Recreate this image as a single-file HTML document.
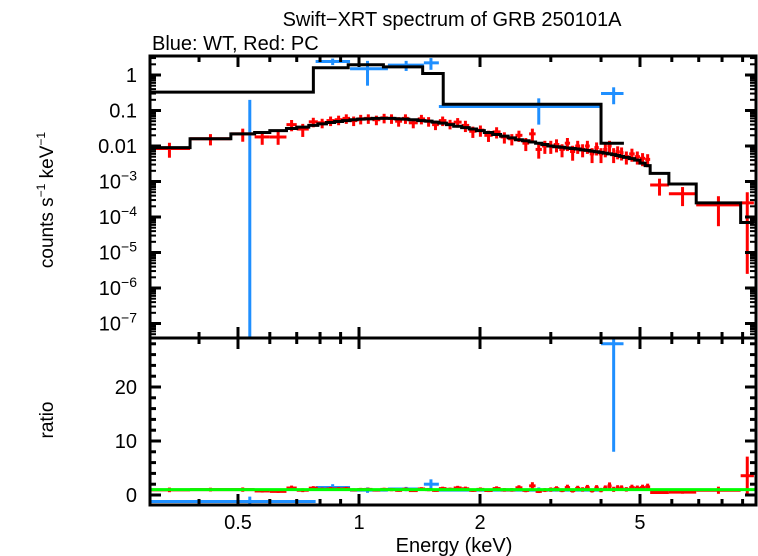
<!DOCTYPE html>
<html><head><meta charset="utf-8"><style>
body{margin:0;background:#fff;}
svg{display:block;font-family:"Liberation Sans",sans-serif;}
</style></head><body>
<svg id="c" width="758" height="556" viewBox="0 0 758 556">
<text x="452" y="26" font-size="20" text-anchor="middle">Swift−XRT spectrum of GRB 250101A</text>
<text x="152" y="50" font-size="20">Blue: WT, Red: PC</text>
<text transform="translate(53,200) rotate(-90)" font-size="19" text-anchor="middle">counts s<tspan font-size="12" dy="-8">−1</tspan><tspan dy="8"> keV</tspan><tspan font-size="12" dy="-8">−1</tspan></text>
<text transform="translate(53,420) rotate(-90)" font-size="19" text-anchor="middle">ratio</text>
<text x="454" y="552" font-size="20" text-anchor="middle">Energy (keV)</text>
<g id="g"></g>
</svg>
<script>
// red PC data
const rLo=[0.30,0.38,0.48,0.55,0.60,0.66,0.70,0.75,0.79,0.83,0.87,0.91,0.95,0.99,1.03,1.08,1.13,1.18,1.23,1.28,1.33,1.40,1.46,1.52,1.58,1.65,1.72,1.80,1.88,1.96,2.05,2.15,2.25,2.35,2.45,2.55,2.65,2.75,2.85,2.95,3.05,3.15,3.25,3.35,3.45,3.55,3.65,3.75,3.85,3.95,4.05,4.15,4.25,4.35,4.45,4.55,4.70,4.85,5.00,5.15,5.30,5.90,6.90,8.90];
const rHi=[0.38,0.48,0.55,0.60,0.66,0.70,0.75,0.79,0.83,0.87,0.91,0.95,0.99,1.03,1.08,1.13,1.18,1.23,1.28,1.33,1.40,1.46,1.52,1.58,1.65,1.72,1.80,1.88,1.96,2.05,2.15,2.25,2.35,2.45,2.55,2.65,2.75,2.85,2.95,3.05,3.15,3.25,3.35,3.45,3.55,3.65,3.75,3.85,3.95,4.05,4.15,4.25,4.35,4.45,4.55,4.70,4.85,5.00,5.15,5.30,5.90,6.90,8.90,9.60];
const rVal=[0.0085,0.016,0.022,0.018,0.018,0.040,0.030,0.048,0.045,0.052,0.055,0.060,0.052,0.058,0.060,0.055,0.062,0.060,0.050,0.060,0.045,0.058,0.050,0.040,0.052,0.042,0.047,0.038,0.026,0.028,0.020,0.025,0.018,0.016,0.020,0.012,0.022,0.008,0.010,0.010,0.011,0.008,0.012,0.007,0.010,0.008,0.010,0.006,0.009,0.006,0.008,0.010,0.006,0.007,0.0065,0.005,0.006,0.005,0.0045,0.0042,0.0008,0.00045,0.00022,0.00025];
const rMod=[0.009,0.016,0.022,0.024,0.027,0.031,0.034,0.038,0.042,0.046,0.049,0.052,0.055,0.057,0.058,0.060,0.060,0.060,0.058,0.057,0.055,0.052,0.050,0.047,0.044,0.040,0.036,0.033,0.030,0.027,0.024,0.021,0.019,0.017,0.015,0.014,0.013,0.012,0.011,0.010,0.0095,0.0092,0.0088,0.0085,0.0082,0.0078,0.0075,0.0072,0.0069,0.0066,0.0063,0.0060,0.0057,0.0054,0.0051,0.0048,0.0044,0.0040,0.0033,0.0028,0.0017,0.00085,0.00025,0.00007];
const rRel=[0.45,0.35,0.4,0.4,0.4,0.35,0.4,0.3,0.3,0.3,0.3,0.3,0.3,0.3,0.3,0.3,0.3,0.3,0.3,0.3,0.3,0.3,0.3,0.3,0.3,0.3,0.3,0.35,0.35,0.35,0.35,0.35,0.35,0.35,0.35,0.4,0.4,0.45,0.4,0.4,0.4,0.4,0.4,0.45,0.4,0.4,0.4,0.45,0.4,0.45,0.4,0.4,0.45,0.4,0.4,0.4,0.4,0.4,0.4,0.4,0.5,0.55,0.75,0.99];
// blue WT data
const bLo=[0.30,0.78,0.95,1.18,1.45,1.58,4.0];
const bHi=[0.78,0.95,1.18,1.45,1.58,4.0,4.55];
const bCen=[0.535,0.86,1.05,1.31,1.51,2.8,4.3];
const bVal=[-0.4,2.4,1.5,1.9,2.2,0.13,0.3];
const bErr=[0.6,0.5,1.0,0.6,0.8,0.09,0.15];
const bRatio=[-1.2,1.4,0.9,1.1,2.0,0.9,28];
const bRatioErr=[0.9,0.6,0.5,0.4,0.9,0.5,20];
// blue model steps
const bmLo=[0.30,0.77,0.94,1.15,1.44,1.62,4.0];
const bmHi=[0.77,0.94,1.15,1.44,1.62,4.0,4.56];
const bmVal=[0.33,1.6,1.95,1.7,1.1,0.15,0.012];
const xTicks=[0.5,1,2,5];
const xMinor=[0.3,0.4,0.6,0.7,0.8,0.9,3,4,6,7,8,9];
const yTicks=[1,0.1,0.01,1e-3,1e-4,1e-5,1e-6,1e-7];
const yTickLabels=["1","0.1","0.01","10|−3","10|−4","10|−5","10|−6","10|−7"];
const rTicks=[0,10,20];

const L=150,R=756,T=56,M=338,B=505;
const X=e=>359+402*Math.log10(e);
const Y=v=>75-35.5*Math.log10(v);
const YR=r=>495-5.4*r;
const g=document.getElementById('g');
const NS='http://www.w3.org/2000/svg';
function el(t,a,name){const e=document.createElementNS(NS,t);for(const k in a)e.setAttribute(k,a[k]);


g.appendChild(e);return e;}
const cl=(v,a,b)=>Math.max(a,Math.min(b,v));
function ln(x1,y1,x2,y2,c,w,name){return el('line',{x1,y1,x2,y2,stroke:c,'stroke-width':w},name);}

let d='';
for(let i=0;i<rLo.length;i++){const y=cl(Y(rMod[i]),T,M);d+=(i?'L':'M')+X(rLo[i])+','+y+'L'+Math.min(X(rHi[i]),R)+','+y;}
let db='';
for(let i=0;i<bmLo.length;i++){const y=cl(Y(bmVal[i]),T,M);db+=(i?'L':'M')+X(bmLo[i])+','+y+'L'+X(bmHi[i])+','+y;}

for(let i=0;i<bLo.length;i++){
  const xc=bCen[i];
  const v=bVal[i];const y=v>0?cl(Y(v),T,M):M;
  ln(X(bLo[i]),y,X(bHi[i]),y,'#1f8fff',3,'wt-point-xerr');
  const up=v+bErr[i],lo=v-bErr[i];
  ln(X(xc),cl(Y(up),T,M),X(xc),lo>0?cl(Y(lo),T,M):M,'#1f8fff',3,'wt-point-yerr');
}
for(let i=0;i<rLo.length;i++){
  const xc=Math.sqrt(rLo[i]*rHi[i]);const v=rVal[i];const e=v*rRel[i];
  ln(X(rLo[i]),Y(v),Math.min(X(rHi[i]),R),Y(v),'#ff0000',3,'pc-point-xerr');
  ln(X(xc),Y(v+e),X(xc),(v-e)>0?cl(Y(v-e),T,M):M,'#ff0000',3,'pc-point-yerr');
}
el('path',{d:db,fill:'none',stroke:'#000','stroke-width':3},'wt-model-line');
el('path',{d:d,fill:'none',stroke:'#000','stroke-width':3},'pc-model-line');

for(let i=0;i<bLo.length;i++){
  const xc=bCen[i];const r=bRatio[i];
  ln(X(bLo[i]),YR(r),X(bHi[i]),YR(r),'#1f8fff',3,'wt-ratio-xerr');
  ln(X(xc),cl(YR(r+bRatioErr[i]),M,B),X(xc),cl(YR(r-bRatioErr[i]),M,B),'#1f8fff',3,'wt-ratio-yerr');
}
for(let i=0;i<rLo.length;i++){
  const xc=Math.sqrt(rLo[i]*rHi[i]);const r=rVal[i]/rMod[i];const e=r*rRel[i];
  ln(X(rLo[i]),YR(r),Math.min(X(rHi[i]),R),YR(r),'#ff0000',3,'pc-ratio-xerr');
  ln(X(xc),cl(YR(r+e),M,B),X(xc),cl(YR(r-e),M,B),'#ff0000',3,'pc-ratio-yerr');
}
ln(L,YR(1),R,YR(1),'#00ff00',3,'unity-line');

el('rect',{x:L,y:T,width:R-L,height:B-T,fill:'none',stroke:'#000','stroke-width':3},'plot-frame');
ln(L,M,R,M,'#000',3,'panel-divider');
for(const t of xTicks){const x=X(t);
  ln(x,T,x,T+11,'#000',3,'x-major-tick');ln(x,M-11,x,M+11,'#000',3,'x-major-tick');ln(x,B,x,B-11,'#000',3,'x-major-tick');
  const tx=el('text',{x:x,y:529,'font-size':20,'text-anchor':'middle'},'x-tick-label');tx.textContent=t;}
for(const t of xMinor){const x=X(t);if(x<=L+1||x>=R)continue;
  ln(x,T,x,T+6,'#000',3,'x-minor-tick');ln(x,M-6,x,M+6,'#000',3,'x-minor-tick');ln(x,B,x,B-6,'#000',3,'x-minor-tick');}
for(let i=0;i<yTicks.length;i++){const y=Y(yTicks[i]);
  ln(L,y,L+11,y,'#000',3,'y-major-tick');ln(R,y,R-11,y,'#000',3,'y-major-tick');
  for(let k=2;k<=9;k++){const ym=Y(yTicks[i]*k);if(ym<T+2)continue;ln(L,ym,L+6,ym,'#000',2,'y-minor-tick');ln(R,ym,R-6,ym,'#000',2,'y-minor-tick');}
  const p=yTickLabels[i].split('|');
  const tx=el('text',{x:137,y:y+7,'font-size':20,'text-anchor':'end'},'y-tick-label');
  if(p.length==1)tx.textContent=p[0];else tx.innerHTML=p[0]+'<tspan font-size="14" dy="-8">'+p[1]+'</tspan>';
}
for(let k=2;k<=9;k++){const y=Y(1e-8*k);if(y<M-1){ln(L,y,L+6,y,'#000',2,'y-minor-tick');ln(R,y,R-6,y,'#000',2,'y-minor-tick');}}
for(const t of rTicks){const y=YR(t);ln(L,y,L+11,y,'#000',3,'ratio-major-tick');ln(R,y,R-11,y,'#000',3,'ratio-major-tick');
  const tx=el('text',{x:137,y:y+7,'font-size':20,'text-anchor':'end'},'ratio-tick-label');tx.textContent=t;}
for(let r=-2;r<=28;r+=2){if(r%10==0)continue;const y=YR(r);if(y<M+2||y>B-2)continue;ln(L,y,L+6,y,'#000',3,'ratio-minor-tick');ln(R,y,R-6,y,'#000',3,'ratio-minor-tick');}
</script>
</body></html>
